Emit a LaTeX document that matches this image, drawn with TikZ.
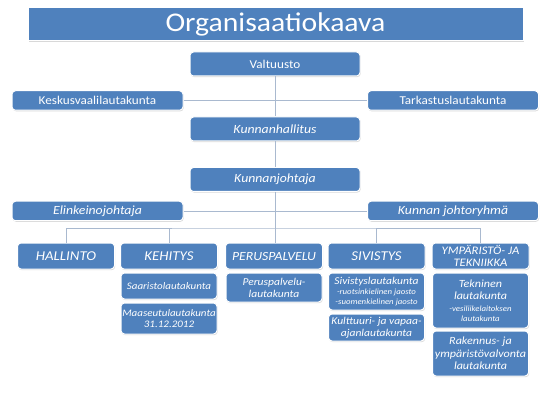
\documentclass[tikz,border=0pt]{standalone}
\usepackage{fontspec}
\setmainfont{Carlito}[FakeStretch=1.1]
\usetikzlibrary{positioning,shadows}

\definecolor{boxblue}{HTML}{4F81BD}
\definecolor{linkgray}{HTML}{A9B9CF}

\begin{document}
\begin{tikzpicture}[
  x=1pt, y=-1pt,
  every node/.style={text=white},
  org/.style={draw=white, line width=1pt, fill=boxblue, rounded corners=3.5pt, inner sep=1pt, align=center,
    drop shadow={shadow xshift=0.7pt, shadow yshift=-1.1pt, opacity=0.3}},
  titlebar/.style={org, rounded corners=0pt, minimum width=495pt, minimum height=33pt, font=\fontsize{27}{30}\selectfont},
  top/.style={org, minimum width=170pt, minimum height=24pt, font=\fontsize{12}{13}\selectfont},
  side/.style={org, minimum width=171pt, minimum height=19.5pt, font=\fontsize{12}{13}\selectfont},
  head/.style={org, minimum width=97pt, minimum height=26pt, font=\itshape\fontsize{13.5}{15}\selectfont},
  sub/.style={org, minimum width=96pt, font=\itshape\fontsize{10.5}{12}\selectfont},
  tiny/.style={font=\fontsize{7.5}{8.5}\selectfont},
  link/.style={draw=linkgray, line width=0.6pt},
]
\path[fill=white] (0,0) rectangle (550,412);

\node[titlebar] (title) at (275.5,24.5) {Organisaatiokaava};
\node[top] (valtuusto) at (275,64) {Valtuusto};
\node[side] (keskus) at (97.5,100.5) {Keskusvaalilautakunta};
\node[side] (tarkastus) at (453,100.5) {Tarkastuslautakunta};
\node[top, font=\itshape\fontsize{12.5}{13}\selectfont] (hallitus) at (275,129) {Kunnanhallitus};
\node[top, font=\itshape\fontsize{12.5}{13}\selectfont] (johtaja) at (275,179.5) {Kunnanjohtaja};
\node[side, font=\itshape\fontsize{12.5}{13}\selectfont] (elinkeino) at (97.5,211) {Elinkeinojohtaja};
\node[side, font=\itshape\fontsize{12.5}{13}\selectfont] (johtoryhma) at (453,211) {Kunnan johtoryhmä};

\node[head] (hallinto) at (66,256) {HALLINTO};
\node[head] (kehitys) at (169,256) {KEHITYS};
\node[head, font=\itshape\fontsize{12.5}{14}\selectfont] (perus) at (274,256) {PERUSPALVELU};
\node[head] (sivistys) at (376.5,256) {SIVISTYS};
\node[head, font=\itshape\fontsize{11.5}{12}\selectfont] (ymparisto) at (480.5,256) {YMPÄRISTÖ- JA\\TEKNIIKKA};

\node[sub, minimum height=26pt, below=3pt of kehitys, font=\itshape\fontsize{10}{11.5}\selectfont] (saaristo) {Saaristolautakunta};
\node[sub, minimum height=31pt, below=3pt of saaristo, font=\itshape\fontsize{10}{11.5}\selectfont] (maaseutu) {Maaseutulautakunta\\31.12.2012};
\node[sub, minimum height=29pt, below=3pt of perus] (peruslk) {Peruspalvelu-\\lautakunta};
\node[sub, minimum height=37pt, below=3pt of sivistys] (sivistyslk)
  {Sivistyslautakunta\\[-2pt]{\fontsize{8}{9}\selectfont -ruotsinkielinen jaosto}\\[-2.5pt]{\fontsize{8}{9}\selectfont -suomenkielinen jaosto}};
\node[sub, minimum height=27pt, below=3pt of sivistyslk] (kulttuuri) {Kulttuuri- ja vapaa-\\ajanlautakunta};
\node[sub, minimum height=55pt, below=3pt of ymparisto, font=\itshape\fontsize{11}{12.5}\selectfont] (tekninen)
  {Tekninen\\lautakunta\\[-1pt]{\fontsize{8}{9}\selectfont -vesiliikelaitoksen}\\[-2.5pt]{\fontsize{8}{9}\selectfont lautakunta}};
\node[sub, minimum height=45pt, below=2pt of tekninen, font=\itshape\fontsize{11}{12.5}\selectfont] (rakennus) {Rakennus- ja\\ympäristövalvonta\\lautakunta};

\coordinate (bus) at (275,228);
\draw[link] (keskus) -- (tarkastus);
\draw[link] (elinkeino) -- (johtoryhma);
\draw[link] (valtuusto) -- (hallitus);
\draw[link] (hallitus) -- (johtaja);
\draw[link] (johtaja.south) -- (johtaja.south |- perus.north);
\draw[link] (hallinto.north) |- (bus) -| (ymparisto.north);
\draw[link] (kehitys.north) -- (kehitys.north |- bus);
\draw[link] (sivistys.north) -- (sivistys.north |- bus);
\end{tikzpicture}
\end{document}
